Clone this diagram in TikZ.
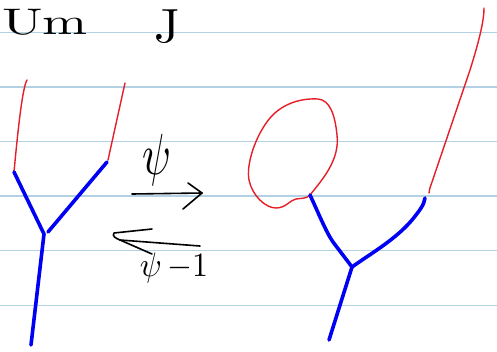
\documentclass[tikz,border=0pt]{standalone}
\usetikzlibrary{calc}
\begin{document}
\begin{tikzpicture}[x=1pt,y=-1pt,
  rule/.style={draw={rgb,255:red,178;green,210;blue,228},line width=1.2pt},
  redstrand/.style={draw={rgb,255:red,230;green,30;blue,40},line width=1.4pt,line cap=round},
  bluestrand/.style={draw={rgb,255:red,0;green,0;blue,245},line width=3.6pt,line cap=round},
  ink/.style={draw=black,line width=1.6pt,line cap=round,line join=round},
  hand/.style={inner sep=0pt,anchor=base}]
\useasboundingbox (0,0) rectangle (497,351);
\fill[white] (0,0) rectangle (497,351);
% ruled lines
\foreach \yy in {32.3,87,141.7,196,250.7,305.3} \draw[rule] (0,\yy) -- (497,\yy);
% header text
\node[hand,xscale=5.4,yscale=3.7,anchor=base west] (um) at (1,34) {Um};
\node[hand,xscale=5,yscale=4.8] (jj) at (167,42) {J};
% left tree
\coordinate (lv) at (44,234);
\coordinate (ll) at (14,172);
\coordinate (lr) at (107,162);
\coordinate (lb) at (31,345);
\coordinate (lrt) at (27,80);
\coordinate (rrt) at (125,83);
\draw[redstrand] (lrt) .. controls (22,88) and (17,140) .. (ll);
\draw[redstrand] (rrt) -- (108,160);
\draw[bluestrand] (ll) -- (lv);
\draw[bluestrand] (lr) -- (48,232);
\draw[bluestrand] (lv) -- (lb);
% arrows
\node[inner sep=0pt,xscale=4.2,yscale=5.8] (psi) at (157,160) {$\psi$};
\coordinate (a1s) at (132,194);
\coordinate (a1e) at (202,193);
\draw[ink] (a1s) -- (a1e);
\draw[ink] (188,183) -- (a1e) -- (183,209);
\coordinate (a2e) at (200,246);
\draw[ink] (152,229) -- (114,233) .. controls (112,236) and (115,238) .. (120,240) -- (a2e);
\draw[ink] (120,240) -- (152,254);
\node[inner sep=0pt,xscale=3.2,yscale=3.4] (psiinv) at (174,268) {$\psi\,{-}1$};
% right tree
\coordinate (rv) at (352,267);
\coordinate (rl) at (310,195);
\coordinate (rr) at (425,198);
\coordinate (rb) at (329,340);
\coordinate (rtop) at (484,8);
\draw[redstrand] (rtop) .. controls (484,20) and (480,38) .. (470,70) -- (432,182) .. controls (430,188) and (429,190) .. (429,193);
\draw[redstrand] (rl) .. controls (322,180) and (340,160) .. (337,135)
  .. controls (335,115) and (330,100) .. (318,99)
  .. controls (300,98) and (282,104) .. (270,118)
  .. controls (255,136) and (246,165) .. (249,180)
  .. controls (252,195) and (265,208) .. (276,208)
  .. controls (286,208) and (290,200) .. (296,199)
  .. controls (302,198) and (306,199) .. (rl);
\draw[bluestrand] (rl) .. controls (318,212) and (326,232) .. (333,242) -- (rv);
\draw[bluestrand] (rr) .. controls (424,205) and (420,210) .. (412,220) .. controls (395,240) and (370,254) .. (rv);
\draw[bluestrand] (rv) -- (rb);
\end{tikzpicture}
\end{document}
